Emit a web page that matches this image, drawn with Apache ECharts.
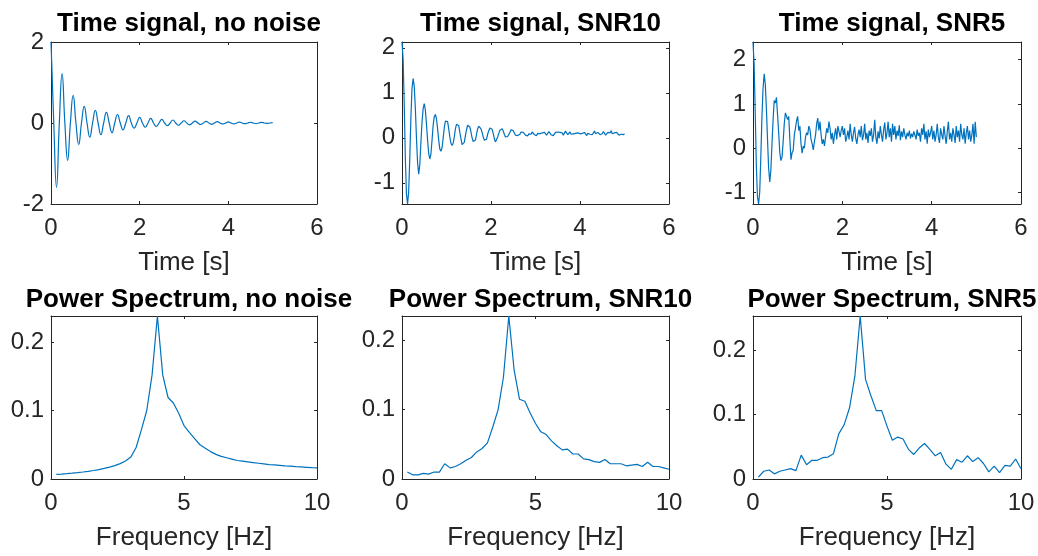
<!DOCTYPE html>
<html><head><meta charset="utf-8">
<script src="https://cdn.jsdelivr.net/npm/echarts@6/dist/echarts.min.js"></script>
<style>html,body{margin:0;padding:0;background:#fff}#c{width:1038px;height:556px}</style>
</head><body><div id="c"></div>
<script>
// ---------------- DATA ----------------
const panelTitles = ['Time signal, no noise', 'Time signal, SNR10', 'Time signal, SNR5',
  'Power Spectrum, no noise', 'Power Spectrum, SNR10', 'Power Spectrum, SNR5'];
const xNames = ['Time [s]', 'Frequency [Hz]'];

// time grid steps (s)
const dtClean = 0.0625;
const dtNoisy = 0.025;
// spectrum frequency step (Hz)
const df = 0.2;

// clean time signal: peaks, zero crossings, troughs (every 1/16 s)
const sigClean = [
  2.0, 0, -1.59, 0, 1.22, 0, -0.92, 0, 0.68, 0, -0.53, 0, 0.41, 0, -0.35, 0,
  0.31, 0, -0.29, 0, 0.26, 0, -0.24, 0, 0.21, 0, -0.17, 0, 0.18, 0, -0.13, 0,
  0.14, 0, -0.105, 0, 0.115, 0, -0.085, 0, 0.09, 0, -0.065, 0, 0.074, 0, -0.055, 0,
  0.055, 0, -0.045, 0, 0.045, 0, -0.037, 0, 0.038, 0, -0.03, 0, 0.032, 0, -0.025, 0,
  0.027, 0, -0.02, 0, 0.022, 0, -0.016, 0, 0.018, 0, -0.013, 0, 0.014, 0, -0.01, 0, 0.01
];

// SNR10 time signal (every 0.025 s)
const sigSnr10 = [
  2.13, 1.75, 0.75, -0.45, -1.25, -1.47, -1.2, -0.45, 0.45, 1.1,
  1.32, 1.15, 0.65, 0.0, -0.55, -0.81, -0.6, -0.1, 0.35, 0.65,
  0.76, 0.62, 0.3, -0.05, -0.35, -0.47, -0.36, -0.05, 0.28, 0.47,
  0.52, 0.42, 0.2, -0.05, -0.25, -0.30, -0.22, 0.0, 0.22, 0.37,
  0.41, 0.36, 0.2, 0.02, -0.12, -0.17, -0.12, 0.02, 0.2, 0.3,
  0.33, 0.27, 0.12, -0.02, -0.15, -0.19, -0.1, 0.05, 0.18, 0.28,
  0.31, 0.24, 0.13, 0.0, -0.08, -0.11, -0.05, 0.08, 0.2, 0.26,
  0.28, 0.2, 0.12, 0.02, -0.05, -0.07, -0.03, 0.08, 0.16, 0.22,
  0.24, 0.19, 0.1, -0.02, -0.09, -0.06, 0.02, 0.1, 0.17, 0.21,
  0.2, 0.15, 0.08, 0.02, -0.01, 0.03, 0.06, 0.12, 0.18, 0.19,
  0.16, 0.12, 0.06, 0.02, 0.05, 0.03, 0.08, 0.13, 0.15, 0.12,
  0.1, 0.06, 0.08, 0.04, 0.09, 0.12, 0.08, 0.13, 0.11, 0.07,
  0.09, 0.05, 0.1, 0.13, 0.09, 0.06, 0.11, 0.08, 0.12, 0.1,
  0.06, 0.09, 0.14, 0.1, 0.07, 0.11, 0.05, 0.09, 0.12, 0.08,
  0.13, 0.17, 0.12, 0.08, 0.11, 0.06, 0.1, 0.15, 0.11, 0.07,
  0.1, 0.13, 0.08, 0.05, 0.09, 0.12, 0.1, 0.07, 0.11, 0.14,
  0.09, 0.06, 0.1, 0.08, 0.12, 0.09, 0.05, 0.1, 0.13, 0.08,
  0.11, 0.07, 0.1, 0.15, 0.09, 0.06, 0.12, 0.1, 0.07, 0.11,
  0.09, 0.14, 0.1, 0.06, 0.1, 0.12, 0.08, 0.11, 0.16, 0.09,
  0.07, 0.11, 0.08, 0.12, 0.09, 0.06, 0.1, 0.08, 0.11, 0.07, 0.09
];

// SNR5 time signal (every 0.025 s)
const sigSnr5 = [
  2.40, 1.9, 0.8, -0.4, -1.1, -1.26, -1.0, -0.2, 0.7, 1.35,
  1.68, 1.45, 0.9, 0.2, -0.45, -0.76, -0.5, 0.1, 0.65, 1.08,
  1.02, 1.15, 0.75, 0.35, -0.1, -0.28, -0.2, 0.15, 0.55, 0.8,
  0.83, 0.65, 0.72, 0.2, -0.26, -0.1, -0.05, 0.3, 0.45, 0.62,
  0.72, 0.4, 0.5, 0.1, -0.11, 0.05, 0.0, 0.25, 0.35, 0.3,
  0.5, 0.42, 0.2, 0.1, -0.04, 0.15, 0.3, 0.55, 0.68, 0.4,
  0.6, 0.3, 0.1, 0.2, 0.05, 0.25, 0.45, 0.35, 0.6, 0.45,
  0.2, 0.35, 0.1, 0.3, 0.45, 0.2, 0.5, 0.38, 0.25, 0.4,
  0.5, 0.3, 0.45, 0.15, 0.25, 0.4, 0.2, 0.55, 0.3, 0.15,
  0.35, 0.48, 0.22, 0.1, 0.3, 0.42, 0.25, 0.5, 0.18, 0.3,
  0.55, 0.2, 0.35, 0.12, 0.4, 0.28, 0.45, 0.15, 0.3, 0.64,
  0.25, 0.1, 0.38, 0.22, 0.5, 0.3, 0.15, 0.42, 0.58, 0.2,
  0.35, 0.6, 0.25, 0.45, 0.15, 0.55, 0.3, 0.5, 0.2, 0.4,
  0.28, 0.52, 0.18, 0.38, 0.25, 0.45, 0.3, 0.2, 0.35, 0.27,
  0.4, 0.22, 0.33, 0.25, 0.38, 0.3, 0.2, 0.42, 0.28, 0.35,
  0.15, 0.45, 0.3, 0.55, 0.2, 0.38, 0.1, 0.42, 0.25, 0.35,
  0.5, 0.2, 0.4, 0.15, 0.3, 0.55, 0.25, 0.12, 0.45, 0.3,
  0.2, 0.5, 0.28, 0.1, 0.38, 0.6, 0.2, 0.35, 0.15, 0.45,
  0.3, 0.12, 0.5, 0.25, 0.4, 0.15, 0.55, 0.3, 0.2, 0.45,
  0.1, 0.35, 0.5, 0.2, 0.4, 0.15, 0.3, 0.55, 0.1, 0.6, 0.25
];

// power spectra at 0.2, 0.4, ... 10 Hz
const psClean = [
  0.0068, 0.0072, 0.0078, 0.0085, 0.0093, 0.0102, 0.0112, 0.0124, 0.0138, 0.0154,
  0.0173, 0.0196, 0.0225, 0.0262, 0.032, 0.046, 0.072, 0.100, 0.152, 0.238,
  0.152, 0.119, 0.111, 0.096, 0.078, 0.068, 0.059, 0.050, 0.045, 0.040,
  0.036, 0.033, 0.031, 0.029, 0.027, 0.026, 0.025, 0.024, 0.023, 0.022,
  0.021, 0.0205, 0.020, 0.0193, 0.0187, 0.0181, 0.0176, 0.0171, 0.0166, 0.0162
];
const psSnr10 = [
  0.010, 0.006, 0.006, 0.008, 0.007, 0.010, 0.010, 0.022, 0.016, 0.018,
  0.022, 0.027, 0.031, 0.039, 0.044, 0.052, 0.075, 0.100, 0.147, 0.2349,
  0.157, 0.115, 0.112, 0.095, 0.080, 0.068, 0.064, 0.055, 0.048, 0.042,
  0.043, 0.036, 0.036, 0.029, 0.028, 0.025, 0.024, 0.028, 0.022, 0.022,
  0.022, 0.019, 0.020, 0.021, 0.018, 0.024, 0.018, 0.018, 0.016, 0.014
];
const psSnr5 = [
  0.003, 0.012, 0.014, 0.008, 0.012, 0.014, 0.016, 0.013, 0.037, 0.022,
  0.029, 0.029, 0.033, 0.034, 0.039, 0.070, 0.084, 0.110, 0.159, 0.2527,
  0.154, 0.129, 0.106, 0.106, 0.082, 0.060, 0.065, 0.062, 0.046, 0.038,
  0.048, 0.055, 0.046, 0.036, 0.041, 0.023, 0.015, 0.030, 0.026, 0.036,
  0.027, 0.033, 0.024, 0.011, 0.020, 0.010, 0.021, 0.020, 0.031, 0.016
];

// axis ranges
const xTime = {min: 0, max: 6, interval: 2};
const xFreq = {min: 0, max: 10, interval: 5};
const yRanges = [
  {min: -2, max: 2, interval: 2},
  {min: -1.47, max: 2.13},
  {min: -1.26, max: 2.40},
  {min: 0, max: 0.238, interval: 0.1},
  {min: 0, max: 0.2349, interval: 0.1},
  {min: 0, max: 0.2527, interval: 0.1}
];

// ---------------- BUILD ----------------
function pairs(step, vals, start) {
  return vals.map((v, i) => [+(start + i * step).toFixed(4), v]);
}
const seriesData = [
  pairs(dtClean, sigClean, 0),
  pairs(dtNoisy, sigSnr10, 0),
  pairs(dtNoisy, sigSnr5, 0),
  pairs(df, psClean, df),
  pairs(df, psSnr10, df),
  pairs(df, psSnr5, df)
];

const FONT = '"Liberation Sans", Arial, Helvetica, sans-serif';
const AX = '#262626';
const grids = [
  {left: 51, top: 42, width: 266, height: 162},
  {left: 402, top: 42, width: 267, height: 162},
  {left: 753, top: 42, width: 268, height: 162},
  {left: 51, top: 316, width: 266, height: 163},
  {left: 402, top: 316, width: 267, height: 163},
  {left: 753, top: 316, width: 268, height: 163}
];

const xAxes = [], yAxes = [], series = [], titles = [];
grids.forEach((g, p) => {
  const xr = p < 3 ? xTime : xFreq;
  const yr = yRanges[p];
  const line = {show: true, onZero: false, lineStyle: {color: AX, width: 1}};
  const tick = {show: true, inside: true, length: 3, lineStyle: {color: AX, width: 1}};
  xAxes.push(Object.assign({
    type: 'value', gridIndex: p, position: 'bottom',
    axisLine: line, axisTick: tick, splitLine: {show: false},
    axisLabel: {fontSize: 24, color: AX, margin: 12, fontFamily: FONT},
    name: xNames[p < 3 ? 0 : 1], nameLocation: 'middle', nameGap: 46,
    nameTextStyle: {fontSize: 26, color: AX, fontFamily: FONT}
  }, xr));
  xAxes.push(Object.assign({
    type: 'value', gridIndex: p, position: 'top',
    axisLine: line, axisTick: tick, splitLine: {show: false},
    axisLabel: {show: false}
  }, xr));
  yAxes.push(Object.assign({
    type: 'value', gridIndex: p, position: 'left',
    axisLine: line, axisTick: tick, splitLine: {show: false},
    axisLabel: {fontSize: 24, color: AX, margin: 7, fontFamily: FONT,
      showMinLabel: (yr.min === 0 || yr.min === -2), showMaxLabel: (yr.max === 2)}
  }, yr));
  yAxes.push(Object.assign({
    type: 'value', gridIndex: p, position: 'right',
    axisLine: line, axisTick: tick, splitLine: {show: false},
    axisLabel: {show: false}
  }, yr));
  series.push({
    type: 'line', xAxisIndex: 2 * p, yAxisIndex: 2 * p,
    data: seriesData[p], showSymbol: false, smooth: p === 0,
    lineStyle: {color: '#0072BD', width: 1.2}, itemStyle: {color: '#0072BD'},
    silent: true
  });
  titles.push({
    text: panelTitles[p], left: g.left + g.width / 2, textAlign: 'center',
    top: p < 3 ? 6 : 282,
    textStyle: {fontSize: 26, fontWeight: 'bold', color: '#000', fontFamily: FONT}
  });
});

const chart = echarts.init(document.getElementById('c'), null, {renderer: 'canvas'});
chart.setOption({
  animation: false,
  backgroundColor: '#fff',
  title: titles,
  grid: grids.map(g => Object.assign({containLabel: false, outerBoundsMode: 'none'}, g)),
  xAxis: xAxes,
  yAxis: yAxes,
  series: series
});
</script>
</body></html>
